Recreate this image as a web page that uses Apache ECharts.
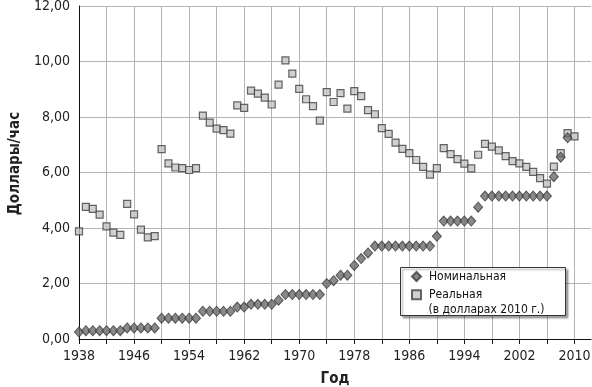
<!DOCTYPE html>
<html><head><meta charset="utf-8">
<script src="https://cdn.jsdelivr.net/npm/echarts@6/dist/echarts.min.js"></script>
<style>html,body{margin:0;padding:0;background:#fff}#c{width:592px;height:387px}</style>
</head><body><div id="c"></div>
<script>
const nominalYears = [1938,1939,1940,1941,1942,1943,1944,1945,1946,1947,1948,1949,1950,1951,1952,1953,1954,1955,1956,1957,1958,1959,1960,1961,1962,1963,1964,1965,1966,1967,1968,1969,1970,1971,1972,1973,1974,1975,1976,1977,1978,1979,1980,1981,1982,1983,1984,1985,1986,1987,1988,1989,1990,1991,1992,1993,1994,1995,1996,1997,1998,1999,2000,2001,2002,2003,2004,2005,2006,2007,2008,2009];
const nominalValues = [0.25,0.30,0.30,0.30,0.30,0.30,0.30,0.40,0.40,0.40,0.40,0.40,0.75,0.75,0.75,0.75,0.75,0.75,1.00,1.00,1.00,1.00,1.00,1.15,1.15,1.25,1.25,1.25,1.25,1.40,1.60,1.60,1.60,1.60,1.60,1.60,2.00,2.10,2.30,2.30,2.65,2.90,3.10,3.35,3.35,3.35,3.35,3.35,3.35,3.35,3.35,3.35,3.70,4.25,4.25,4.25,4.25,4.25,4.75,5.15,5.15,5.15,5.15,5.15,5.15,5.15,5.15,5.15,5.15,5.85,6.55,7.25];
const realYears = [1938,1939,1940,1941,1942,1943,1944,1945,1946,1947,1948,1949,1950,1951,1952,1953,1954,1955,1956,1957,1958,1959,1960,1961,1962,1963,1964,1965,1966,1967,1968,1969,1970,1971,1972,1973,1974,1975,1976,1977,1978,1979,1980,1981,1982,1983,1984,1985,1986,1987,1988,1989,1990,1991,1992,1993,1994,1995,1996,1997,1998,1999,2000,2001,2002,2003,2004,2005,2006,2007,2008,2009,2010];
const realValues = [3.88,4.76,4.69,4.48,4.06,3.83,3.75,4.87,4.49,3.94,3.66,3.71,6.84,6.33,6.18,6.16,6.09,6.16,8.05,7.80,7.58,7.53,7.40,8.42,8.33,8.95,8.84,8.70,8.45,9.17,10.04,9.56,9.01,8.64,8.39,7.87,8.90,8.54,8.86,8.30,8.93,8.75,8.25,8.10,7.60,7.39,7.08,6.85,6.70,6.45,6.20,5.92,6.16,6.88,6.66,6.48,6.32,6.15,6.64,7.03,6.93,6.80,6.59,6.41,6.33,6.20,6.02,5.80,5.60,6.21,6.70,7.42,7.30];
const xTickYears = [1938,1942,1946,1950,1954,1958,1962,1966,1970,1974,1978,1982,1986,1990,1994,1998,2002,2006,2010];
const xLabelYears = [1938,1946,1954,1962,1970,1978,1986,1994,2002,2010];
const seriesNames = ['Номинальная','Реальная'];
const realNote = '(в долларах 2010 г.)';
const xTitle = 'Год';
const yTitle = 'Доллары/час';

const FF = "'DejaVu Sans Condensed','Liberation Sans Narrow',sans-serif";
const chart = echarts.init(document.getElementById('c'), null, {renderer:'canvas'});
const pair = (xs, ys) => xs.map((x,i)=>[x, ys[i]]);
chart.setOption({
  animation:false,
  backgroundColor:'#fff',
  grid:{left:79, right:1, top:6, bottom:48, containLabel:false, outerBoundsMode:'none'},
  xAxis:{
    type:'value', min:1938, max:2012.4,
    name:xTitle, nameLocation:'middle', nameGap:33,
    nameTextStyle:{fontFamily:FF, fontSize:15, fontWeight:'bold', color:'#222'},
    axisLine:{show:true, onZero:false, lineStyle:{color:'#111', width:1}},
    axisTick:{show:true, inside:false, length:5, lineStyle:{color:'#111'}, customValues:xTickYears},
    axisLabel:{customValues:xLabelYears, fontFamily:FF, fontSize:14, color:'#222', margin:10, formatter:v=>String(v)},
    splitLine:{show:true, lineStyle:{color:'#b4b4b4', width:1}}
  },
  yAxis:{
    type:'value', min:0, max:12, interval:2,
    name:yTitle, nameLocation:'middle', nameGap:56,
    nameTextStyle:{fontFamily:FF, fontSize:15, fontWeight:'bold', color:'#222', padding:[0,0,0,18]},
    axisLine:{show:true, lineStyle:{color:'#111', width:1}},
    axisTick:{show:false},
    axisLabel:{fontFamily:FF, fontSize:14, color:'#222', margin:9, formatter:v=>v.toFixed(2).replace('.',',')},
    splitLine:{show:true, lineStyle:{color:'#b4b4b4', width:1}}
  },
  legend:{
    orient:'vertical', left:411, top:270.5, padding:0, itemWidth:9, itemHeight:9, itemGap:6.3, z:6,
    data:[{name:seriesNames[0], icon:'diamond'},{name:seriesNames[1], icon:'rect'}],
    textStyle:{fontFamily:FF, fontSize:12, lineHeight:12, color:'#111', padding:[0,0,0,3]}
  },
  graphic:[
    {type:'rect', z:3, shape:{x:400.5, y:267.5, width:165, height:48},
     style:{fill:'#fff', stroke:'#333', lineWidth:1, shadowBlur:2, shadowOffsetX:2, shadowOffsetY:2, shadowColor:'rgba(0,0,0,0.35)'}},
    {type:'text', z:6, x:428.5, y:310, style:{text:realNote, font:"12px "+FF, fill:'#111', verticalAlign:'middle', align:'left'}}
  ],
  series:[
    {name:seriesNames[1], type:'scatter', z:2, symbol:'rect', symbolSize:7,
     itemStyle:{color:'#c4c4c4', borderColor:'#404040', borderWidth:1.2},
     data:pair(realYears, realValues)},
    {name:seriesNames[0], type:'scatter', z:3, symbol:'diamond', symbolSize:[9,10],
     itemStyle:{color:'#6c6c6c', borderColor:'#3a3a3a', borderWidth:1},
     data:pair(nominalYears, nominalValues)}
  ]
});
</script></body></html>
